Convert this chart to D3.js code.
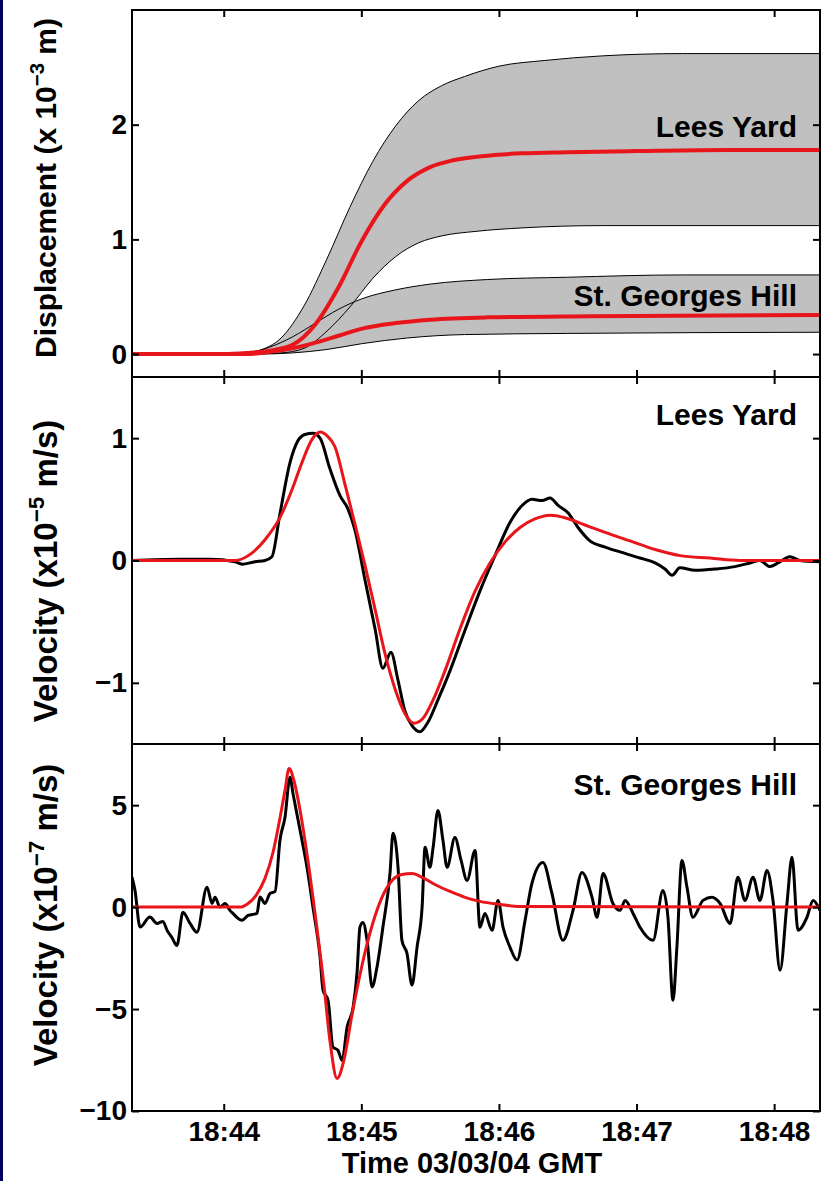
<!DOCTYPE html>
<html>
<head>
<meta charset="utf-8">
<script src="https://cdn.jsdelivr.net/npm/d3@7"></script>
<style>
    body { margin: 0; background: #fff; }
    svg text { font-family: "Liberation Sans", Arial, sans-serif; font-weight: bold; fill: #000; }
</style>
</head>
<body>
<div id="plot"></div>
<script>
// times are seconds after 18:43:00 GMT, 03/03/04
const timeTicks = ["18:44", "18:45", "18:46", "18:47", "18:48"];
const timeDomain = [20, 320];

// panel 1: displacement (x 10^-3 m)
const leesFitDispTime = [20, 60, 70, 80, 90, 100, 110, 120, 130, 140, 150, 160, 175, 190, 210, 240, 280, 320];
const leesFitDisp = [0, 0, 0.01, 0.03, 0.08, 0.26, 0.58, 0.98, 1.30, 1.51, 1.63, 1.69, 1.73, 1.75, 1.76, 1.77, 1.78, 1.78];
const leesUpperTime = [20, 65, 75, 85, 95, 105, 115, 125, 135, 145, 155, 165, 180, 200, 225, 260, 320];
const leesUpper = [0, 0, 0.03, 0.14, 0.42, 0.83, 1.28, 1.68, 1.99, 2.21, 2.34, 2.42, 2.51, 2.56, 2.60, 2.62, 2.62];
const leesLowerTime = [20, 70, 85, 95, 105, 115, 125, 135, 145, 155, 170, 190, 225, 320];
const leesLower = [0, 0, 0.01, 0.05, 0.20, 0.41, 0.66, 0.85, 0.97, 1.03, 1.07, 1.10, 1.12, 1.12];
const sghFitDispTime = [20, 70, 80, 90, 100, 110, 120, 135, 150, 175, 220, 320];
const sghFitDisp = [0, 0, 0.02, 0.05, 0.10, 0.16, 0.22, 0.27, 0.30, 0.32, 0.33, 0.34];
const sghUpperTime = [20, 68, 80, 90, 100, 110, 120, 135, 150, 175, 210, 260, 320];
const sghUpper = [0, 0, 0.06, 0.15, 0.27, 0.39, 0.48, 0.56, 0.61, 0.65, 0.67, 0.69, 0.69];
const sghLowerTime = [20, 75, 90, 105, 120, 140, 165, 210, 320];
const sghLower = [0, 0, 0.01, 0.04, 0.09, 0.14, 0.17, 0.18, 0.19];

// panel 2: Lees Yard velocity (x10^-5 m/s)
const leesObsTime = [20, 40.9, 54, 64.9, 68, 73.6, 78, 81, 84.5, 88.9, 92.4, 95.4, 98.9, 102, 106.3, 110.7, 114.2, 117.2, 121.6, 126,
    129.4, 132.9, 136, 139, 142.1, 145.6, 149.1, 153.4, 158.7, 165.2, 171.7, 178.3, 184.8, 190.1, 194.4, 198.8, 202.3, 205.8, 210.1, 214.5,
    219.7, 226.3, 232.8, 241.5, 248.1, 252.4, 255.5, 258.9, 265.5, 274.2, 282.9, 289.5, 293.8, 298.2, 301.7, 306.9, 311.3, 320];
const leesObs = [0, 0.01, 0.01, -0.01, -0.03, -0.01, 0, 0.03, 0.38, 0.80, 0.98, 1.03, 1.04, 1.00, 0.75, 0.53, 0.42, 0.25, -0.16, -0.56,
    -0.88, -0.75, -0.98, -1.23, -1.35, -1.40, -1.32, -1.14, -0.90, -0.57, -0.25, 0.04, 0.31, 0.45, 0.50, 0.49, 0.51, 0.45, 0.39, 0.27,
    0.16, 0.11, 0.07, 0.02, -0.02, -0.07, -0.12, -0.06, -0.08, -0.07, -0.05, -0.02, 0, -0.05, -0.02, 0.03, 0, -0.01];
const leesFitTime = [20, 64.9, 71.5, 78, 84.5, 89.8, 94.1, 98.5, 102, 105, 108.5, 112.9, 117.2, 121.6, 126, 130.3, 134.7, 139, 143, 146.9,
    151.3, 156.5, 163, 169.6, 176.1, 182.6, 189.2, 195.7, 202.3, 208.8, 217.5, 226.3, 237.2, 248.1, 259, 272, 285.1, 320];
const leesFit = [0, 0, 0.05, 0.17, 0.35, 0.58, 0.80, 0.99, 1.05, 1.02, 0.93, 0.62, 0.30, -0.04, -0.40, -0.76, -1.05, -1.25, -1.33, -1.29,
    -1.14, -0.90, -0.56, -0.25, -0.02, 0.15, 0.27, 0.34, 0.37, 0.35, 0.29, 0.23, 0.16, 0.09, 0.04, 0.02, 0, 0];

// panel 3: St. Georges Hill velocity (x10^-7 m/s)
const sghObsTime = [20, 21.3, 23.5, 27.8, 30.9, 33.5, 35.3, 37.4, 39.6, 42.2, 45.3, 48.3, 52.7, 54.9, 56.2, 58.4, 60.6, 62.7, 64, 68,
    70.6, 74.5, 75.8, 78, 80.2, 82.4, 84.5, 86.7, 88.9, 90.2, 93.3, 96.3, 98.9, 102, 103.3, 105.5, 107.6, 109.8, 111.6, 113.8,
    116.4, 118.1, 119.4, 120.7, 122.5, 124.7, 126.8, 129.4, 132.5, 133.8, 136, 137.7, 139.9, 142.1, 144.3, 146.5, 147.8, 149.9, 151.3, 153.4,
    155.6, 157.4, 160.8, 163.5, 166.1, 169.6, 171.7, 173.9, 177, 179.6, 181.8, 184.8, 187.9, 191.4, 194.4, 199.2, 203.1, 207.9, 212.3, 216.2,
    220.6, 222.8, 225.4, 229.7, 232.8, 235, 238.5, 241.5, 247.2, 251.5, 253.7, 255.9, 257.6, 259.8, 262, 264.6, 269, 272.9, 276.4, 280.8,
    284.2, 287.3, 290.8, 293.8, 296.9, 299.5, 302.6, 305.6, 307.8, 310.4, 314.3, 317, 320];
const sghObs = [1.47, 0.82, -0.98, -0.49, -0.8, -0.7, -1.14, -1.49, -1.88, -0.25, -0.8, -1.23, 0.98, 0.18, 0.48, 0, 0.18, -0.16, -0.31, -0.65,
    -0.41, -0.31, 0.49, 0.18, 0.67, 0.77, 3.27, 4.40, 6.37, 5.57, 3.76, 1.95, 0, -2.45, -4.08, -4.57, -6.86, -7.02, -7.52, -5.88,
    -4.92, -3.25, -0.98, -0.75, -1.63, -3.92, -2.96, -0.99, 1.65, 3.62, 1.95, -1.63, -2.27, -3.82, -1.96, 0, 2.94, 1.95, 2.93, 4.74,
    3.27, 1.95, 3.42, 2.29, 1.31, 2.78, -0.99, -0.31, -1.14, 0.33, -0.99, -1.96, -2.6, -0.65, 1.17, 2.19, 0.68, -1.63, -0.16, 1.70,
    0.48, -0.5, 1.65, 0.18, -0.16, 0.33, -0.31, -0.99, -1.63, 0.82, -0.5, -4.57, -1.96, 2.29, 0.97, -0.5, 0.33, 0.48, 0.18, -0.8,
    1.46, 0.33, 1.46, 0.33, 1.80, 0.33, -3.1, 0.18, 2.44, -1.14, -0.5, 0.33, -0.16];
const sghFitTime = [20, 67.1, 70.6, 74.1, 78, 81.5, 84.5, 86.7, 88.5, 90.6, 93.3, 96.7, 100.2, 103.7, 106.3, 109.4, 112.4, 115.9, 120.3, 124.7,
    129, 133.4, 137.7, 142.1, 146.5, 152.1, 158.7, 165.2, 171.7, 180.5, 189.2, 320];
const sghFit = [0, 0, 0.18, 0.58, 1.41, 2.69, 4.35, 5.72, 6.8, 6.21, 4.74, 2.29, -0.65, -3.84, -6.54, -8.4, -7.5, -5.3, -2.85, -0.90,
    0.48, 1.31, 1.60, 1.65, 1.46, 1.11, 0.77, 0.48, 0.28, 0.13, 0.03, 0];

const T0 = Date.UTC(2004, 2, 3, 18, 43, 0);
const at = s => new Date(T0 + s * 1000);
const zip = (ts, vs) => ts.map((t, i) => ({ t: at(t), v: vs[i] }));
const tickDates = timeTicks.map(s => {
    const [h, m] = s.split(":");
    return new Date(Date.UTC(2004, 2, 3, +h, +m, 0));
});

const RED = "#e8151b";
const GREY = "#c0c0c0";
const plotLeft = 132, plotRight = 820;

const svg = d3.select("#plot").append("svg")
    .attr("width", 821)
    .attr("height", 1181);

svg.append("rect").attr("width", 821).attr("height", 1181).attr("fill", "#fff");
svg.append("rect").attr("x", 0).attr("width", 3).attr("height", 1181).attr("fill", "#000060");

const x = d3.scaleUtc()
    .domain(timeDomain.map(at))
    .range([plotLeft, plotRight]);

function makePanel(id, top, bottom, domain) {
    const y = d3.scaleLinear().domain(domain).range([bottom, top]);
    svg.append("clipPath").attr("id", id)
        .append("rect")
        .attr("x", plotLeft).attr("y", top)
        .attr("width", plotRight - plotLeft).attr("height", bottom - top);
    const plot = svg.append("g").attr("clip-path", `url(#${id})`);
    return { y, plot, top, bottom };
}

function drawFrame(p, yTicks, showTimeLabels) {
    const style = g => {
        g.select(".domain").remove();
        g.selectAll(".tick line").attr("stroke", "#000").attr("stroke-width", 2);
        g.attr("font-size", 28)
            .attr("font-family", "Liberation Sans, Arial, sans-serif")
            .attr("font-weight", "bold");
    };
    svg.append("g")
        .attr("transform", `translate(${plotLeft},0)`)
        .call(d3.axisLeft(p.y).tickValues(yTicks).tickSize(-7).tickPadding(5).tickFormat(d3.format("d")))
        .call(style);
    svg.append("g")
        .attr("transform", `translate(${plotRight},0)`)
        .call(d3.axisRight(p.y).tickValues(yTicks).tickSize(-7).tickFormat(""))
        .call(style);
    svg.append("g")
        .attr("transform", `translate(0,${p.top})`)
        .call(d3.axisTop(x).tickValues(tickDates).tickSize(-7).tickFormat(""))
        .call(style);
    svg.append("g")
        .attr("transform", `translate(0,${p.bottom})`)
        .call(d3.axisBottom(x).tickValues(tickDates).tickSize(-7).tickPadding(10)
            .tickFormat(showTimeLabels ? d3.utcFormat("%H:%M") : ""))
        .call(style);
    svg.append("rect")
        .attr("x", plotLeft).attr("y", p.top)
        .attr("width", plotRight - plotLeft).attr("height", p.bottom - p.top)
        .attr("fill", "none").attr("stroke", "#000").attr("stroke-width", 2);
}

function drawLine(p, data, color, width, curve = d3.curveMonotoneX) {
    p.plot.append("path")
        .datum(data)
        .attr("fill", "none")
        .attr("stroke", color)
        .attr("stroke-width", width)
        .attr("stroke-linejoin", "round")
        .attr("d", d3.line().x(d => x(d.t)).y(d => p.y(d.v)).curve(curve));
}

function fillDown(p, data, color) {
    p.plot.append("path")
        .datum(data)
        .attr("fill", color)
        .attr("d", d3.area().x(d => x(d.t)).y0(p.bottom).y1(d => p.y(d.v)).curve(d3.curveMonotoneX));
}

function yLabel(cx, cy, size, main, sup, tail) {
    const t = svg.append("text")
        .attr("transform", `translate(${cx},${cy}) rotate(-90)`)
        .attr("text-anchor", "middle")
        .attr("font-size", size);
    t.append("tspan").text(main);
    t.append("tspan").attr("dy", -size * 0.4).attr("font-size", size * 0.68).text(sup);
    t.append("tspan").attr("dy", size * 0.4).text(tail);
}

function panelText(px, py, s) {
    svg.append("text")
        .attr("x", px).attr("y", py)
        .attr("text-anchor", "end")
        .attr("font-size", 30)
        .text(s);
}

// ---- panel 1
const p1 = makePanel("clip1", 10, 377, [-0.2, 3]);
fillDown(p1, zip(leesUpperTime, leesUpper), GREY);
fillDown(p1, zip(leesLowerTime, leesLower), "#fff");
fillDown(p1, zip(sghUpperTime, sghUpper), GREY);
fillDown(p1, zip(sghLowerTime, sghLower), "#fff");
drawLine(p1, zip(leesUpperTime, leesUpper), "#000", 1);
drawLine(p1, zip(leesLowerTime, leesLower), "#000", 1);
drawLine(p1, zip(sghUpperTime, sghUpper), "#000", 1);
drawLine(p1, zip(sghLowerTime, sghLower), "#000", 1);
drawLine(p1, zip(leesFitDispTime, leesFitDisp), RED, 4);
drawLine(p1, zip(sghFitDispTime, sghFitDisp), RED, 4);
drawFrame(p1, [0, 1, 2], false);
panelText(797, 137, "Lees Yard");
panelText(797, 306, "St. Georges Hill");
yLabel(56, 188, 30, "Displacement (x 10", "\u22123", " m)");

// ---- panel 2
const p2 = makePanel("clip2", 377, 744, [-1.5, 1.5]);
drawLine(p2, zip(leesObsTime, leesObs), "#000", 3);
drawLine(p2, zip(leesFitTime, leesFit), RED, 3);
drawFrame(p2, [-1, 0, 1], false);
panelText(797, 425, "Lees Yard");
yLabel(57, 571, 33, "Velocity (x10", "\u22125", " m/s)");

// ---- panel 3
const p3 = makePanel("clip3", 744, 1111, [-10, 8]);
drawLine(p3, zip(sghObsTime, sghObs), "#000", 3);
drawLine(p3, zip(sghFitTime, sghFit), RED, 3);
drawFrame(p3, [-10, -5, 0, 5], true);
panelText(797, 795, "St. Georges Hill");
yLabel(57, 915, 33, "Velocity (x10", "\u22127", " m/s)");

svg.append("text")
    .attr("x", (plotLeft + plotRight) / 2 - 4)
    .attr("y", 1173)
    .attr("text-anchor", "middle")
    .attr("font-size", 29)
    .text("Time 03/03/04 GMT");
</script>
</body>
</html>
